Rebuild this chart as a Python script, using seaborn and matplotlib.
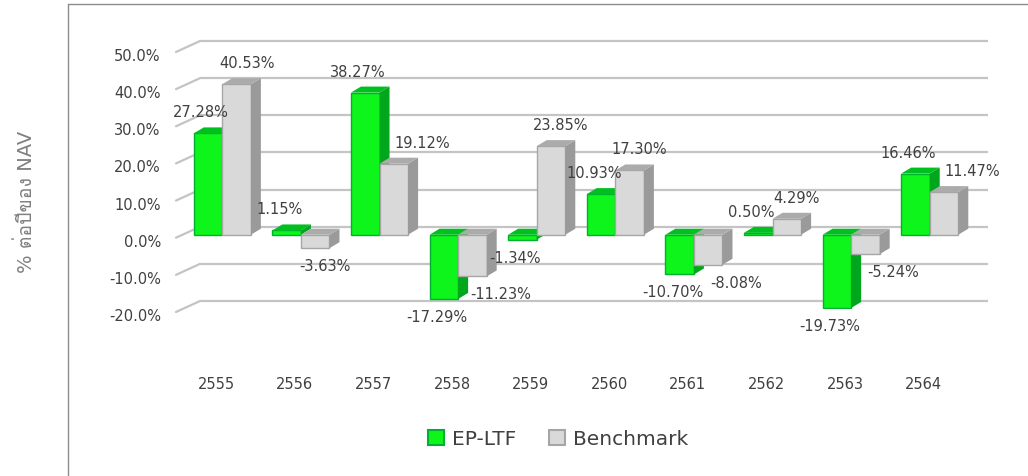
import pandas as pd
import matplotlib
matplotlib.use("Agg")
import matplotlib.pyplot as plt
from matplotlib import font_manager, ft2font
from matplotlib.lines import Line2D
import seaborn as sns

# data
years = ['2555', '2556', '2557', '2558', '2559', '2560', '2561', '2562', '2563', '2564']
ep_ltf = [27.28, 1.15, 38.27, -17.29, -1.34, 10.93, -10.70, 0.50, -19.73, 16.46]
benchmark = [40.53, -3.63, 19.12, -11.23, 23.85, 17.30, -8.08, 4.29, -5.24, 11.47]
series_names = ['EP-LTF', 'Benchmark']
y_ticks = [-20, -10, 0, 10, 20, 30, 40, 50]
y_title = '% ต่อปีของ NAV'

# find something that can draw Thai for the axis title
thai_font = None
for f in font_manager.fontManager.ttflist:
    try:
        if 0x0E15 in ft2font.FT2Font(f.fname).get_charmap():
            thai_font = f.name
            break
    except Exception:
        pass

sns.set_theme(style='white')
fams = ['DejaVu Sans'] + ([thai_font] if thai_font else [])
plt.rcParams['font.family'] = fams
txt = '#404040'

df = pd.DataFrame({
    'year': years * 2,
    'ret': ep_ltf + benchmark,
    'series': [series_names[0]] * len(years) + [series_names[1]] * len(years),
})

fig = plt.figure(figsize=(10.28, 4.77), dpi=100)
ax = fig.add_axes([183 / 1028, 167 / 477, 786 / 1028, 260 / 477])
ax.set_xlim(-0.5, 9.52)
ax.set_ylim(-20, 50)

# pixel -> data units
p0 = ax.transData.transform((0, 0))
p1 = ax.transData.transform((1, 1))
ux = 1 / (p1[0] - p0[0])
uy = 1 / (p1[1] - p0[1])

grid_c = '#C4C4C4'
x0, x1 = ax.get_xlim()
for v in y_ticks:
    ax.plot([x0 + 17 * ux, x1 + 17 * ux], [v + 8 * uy] * 2, color=grid_c, lw=1.6,
            zorder=1, clip_on=False, solid_capstyle='butt')
    ax.plot([x0 - 7 * ux, x0 + 17 * ux], [v - 3 * uy, v + 8 * uy], color=grid_c, lw=1.6,
            zorder=1, clip_on=False)

front = {'EP-LTF': '#0DF51A', 'Benchmark': '#D9D9D9'}
edge = {'EP-LTF': '#00B030', 'Benchmark': '#A6A6A6'}
side = {'EP-LTF': '#00A61C', 'Benchmark': '#9A9A9A'}
topc = {'EP-LTF': '#00C020', 'Benchmark': '#ABABAB'}

sns.barplot(data=df, x='year', y='ret', hue='series', hue_order=series_names,
            palette=front, width=0.727, saturation=1, ax=ax, legend=True,
            edgecolor=None, linewidth=0)

bars = ax.patches[:2 * len(years)]
dx, dy = 10 * ux, 6 * uy
for i, b in enumerate(bars):
    s = series_names[i // len(years)]
    z = 3 + 2 * (i // len(years))
    b.set_edgecolor(edge[s])
    b.set_linewidth(1.0)
    b.set_zorder(z)
    x, w = b.get_x(), b.get_width()
    lo = min(b.get_y(), b.get_y() + b.get_height())
    hi = max(b.get_y(), b.get_y() + b.get_height())
    ax.fill([x + w, x + w, x + w + dx, x + w + dx], [lo, hi, hi + dy, lo + dy],
            color=side[s], zorder=z + 0.5, lw=0)
    ax.fill([x, x + w, x + w + dx, x + dx], [hi, hi, hi + dy, hi + dy],
            color=topc[s], zorder=z + 0.5, lw=0)

# value labels
n = len(years)
for i in range(n):
    g, k = ep_ltf[i], benchmark[i]
    for j, v in enumerate([g, k]):
        b = bars[j * n + i]
        cx = b.get_x() + b.get_width() / 2
        if j == 0:
            off = -7
        elif g * k > 0 and abs(k) < abs(g):
            off = 28
        else:
            off = 10
        if v >= 0:
            ax.annotate(f'{v:.2f}%', (cx, v), xytext=(off, 14), textcoords='offset pixels',
                        ha='center', va='bottom', fontsize=10.5, color=txt, zorder=10)
        else:
            ax.annotate(f'{v:.2f}%', (cx, v), xytext=(off, -10), textcoords='offset pixels',
                        ha='center', va='top', fontsize=10.5, color=txt, zorder=10)

sns.despine(ax=ax, left=True, bottom=True)
ax.grid(False)
ax.set_xlabel('')
ax.set_ylabel('')
ax.set_yticks(y_ticks)
ax.set_yticklabels([f'{t:.1f}%' for t in y_ticks])
ax.tick_params(axis='y', length=0, pad=16, labelsize=10.5, labelcolor=txt)
ax.tick_params(axis='x', length=0, pad=48, labelsize=10.5, labelcolor=txt)
from matplotlib.transforms import ScaledTranslation
for lab in ax.get_yticklabels():
    lab.set_transform(lab.get_transform() + ScaledTranslation(0, -5 / 100, fig.dpi_scale_trans))
for lab in ax.get_xticklabels():
    lab.set_transform(lab.get_transform() + ScaledTranslation(-6 / 100, 0, fig.dpi_scale_trans))

# legend
h, l = ax.get_legend_handles_labels()
for hh, s in zip(h, series_names):
    hh.set_edgecolor(edge[s])
    hh.set_linewidth(1.5)
ax.get_legend().remove()
fig.legend(h, l, loc='center', bbox_to_anchor=(558 / 1028, 37 / 477), ncol=2, frameon=False,
           fontsize=14.5, handlelength=0.8, handleheight=0.8, handletextpad=0.4,
           columnspacing=1.6, labelcolor=txt)

fig.text(26 / 1028, 1 - 202 / 477, y_title, rotation=90, ha='center', va='center',
         fontsize=14, color='#808080')

# chart frame (left and top edges)
fig.add_artist(Line2D([68 / 1028, 68 / 1028], [0, 472 / 477], transform=fig.transFigure,
                      color='#8C8C8C', lw=1))
fig.add_artist(Line2D([68 / 1028, 1], [472 / 477, 472 / 477], transform=fig.transFigure,
                      color='#8C8C8C', lw=1))

fig.savefig('out.png', dpi=100)
